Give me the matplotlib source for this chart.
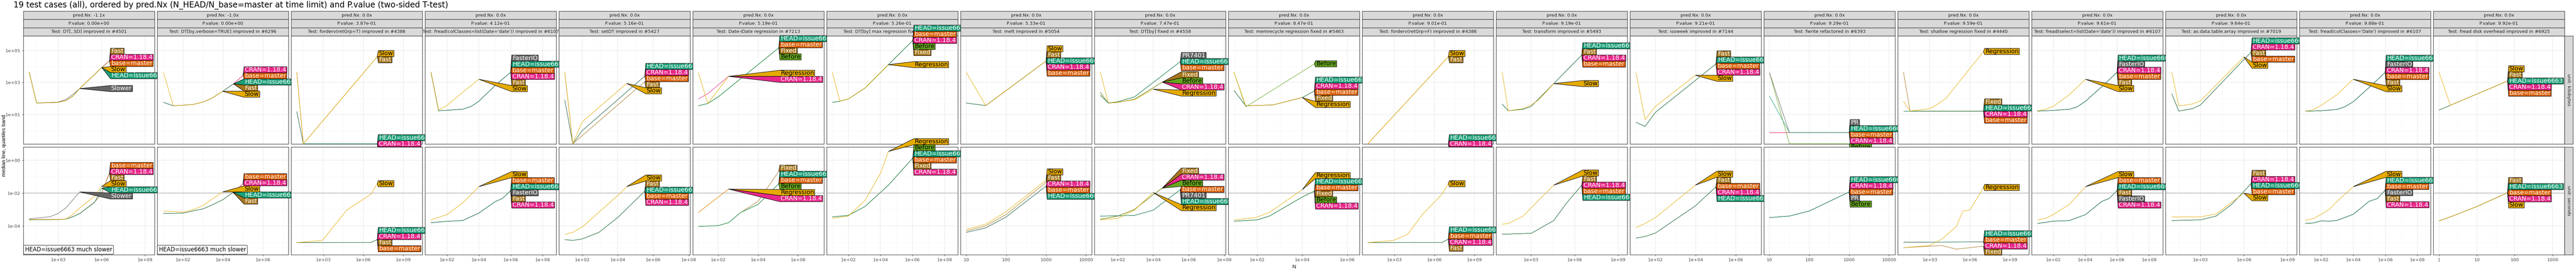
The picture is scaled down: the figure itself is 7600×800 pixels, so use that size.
import matplotlib
matplotlib.use("Agg")
import matplotlib.pyplot as plt
from matplotlib.patches import Polygon
from matplotlib.ticker import NullFormatter
import numpy as np

FONT = ["Liberation Sans Narrow", "DejaVu Sans"]
plt.rcParams["font.family"] = FONT

W, H = 7600, 800

H6 = "HEAD=issue6663"
CR = "CRAN=1.18.4"
BM = "base=master"

COLORS = {
    H6: "#1B9E77", BM: "#D95F02", CR: "#E7298A",
    "Fast": "#A6761D", "Fixed": "#A6761D",
    "Slow": "#E6AB02", "Regression": "#E6AB02",
    "Before": "#66A61E",
    "Slower": "#666666", "FasterIO": "#666666", "PR7401": "#666666", "PR": "#666666",
}
LINE_Z = {BM: 3.0, CR: 3.1, "Fast": 3.2, "Fixed": 3.2, "Before": 3.3, "Slower": 3.4,
          "FasterIO": 3.4, "PR7401": 3.4, "PR": 3.4, H6: 3.6, "Slow": 3.8, "Regression": 3.8}
DARK_TEXT = {"Slow", "Regression", "Before"}

PRED_NX = ["-1.1x", "-1.0x"] + ["0.0x"] * 17
PVALUES = ["0.00e+00", "0.00e+00", "3.87e-01", "4.12e-01", "5.16e-01", "5.19e-01",
           "5.26e-01", "5.33e-01", "7.47e-01", "8.47e-01", "9.01e-01", "9.19e-01",
           "9.21e-01", "9.29e-01", "9.59e-01", "9.61e-01", "9.64e-01", "9.88e-01",
           "9.92e-01"]
TESTS = [
    "DT[,.SD] improved in #4501",
    "DT[by,verbose=TRUE] improved in #6296",
    "forderv(retGrp=T) improved in #4386",
    "fread(colClasses=list(Date='date')) improved in #6107",
    "setDT improved in #5427",
    "Date-IDate regression in #7213",
    "DT[by] max regression fixed in #7480",
    "melt improved in #5054",
    "DT[by] fixed in #4558",
    "memrecycle regression fixed in #5463",
    "forderv(retGrp=F) improved in #4386",
    "transform improved in #5493",
    "isoweek improved in #7144",
    "fwrite refactored in #6393",
    "shallow regression fixed in #4440",
    "fread(select=list(Date='date')) improved in #6107",
    "as.data.table.array improved in #7019",
    "fread(colClasses='Date') improved in #6107",
    "fread disk overhead improved in #6925",
]

# x limits and x ticks, as log10(N)
XLIMS = [(0.59, 9.65), (0.71, 7.27), (0.57, 10.44), (0.63, 8.85), (0.69, 8.08),
         (0.73, 7.3), (0.66, 8.82), (0.86, 4.14), (0.69, 8.08), (0.72, 6.54),
         (0.57, 10.44), (0.58, 9.64), (0.73, 7.27), (0.86, 4.15), (0.6, 10.43),
         (0.65, 8.86), (0.6, 9.63), (0.64, 8.82), (-0.15, 3.31)]
XTICKS = [[3, 6, 9], [2, 4, 6], [3, 6, 9], [2, 4, 6, 8], [2, 4, 6, 8], [2, 4, 6],
          [2, 4, 6, 8], [1, 2, 3, 4], [2, 4, 6, 8], [2, 4, 6], [3, 6, 9], [3, 6, 9],
          [2, 4, 6], [1, 2, 3, 4], [3, 6, 9], [2, 4, 6, 8], [3, 6, 9], [2, 4, 6, 8],
          [0, 1, 2, 3]]
PLAIN_TICKS = {7, 13, 18}

# series: (names, log10 N, log10 value)  -- top row: kilobytes, bottom row: seconds
KB = [
    [("Fast,CRAN=1.18.4,base=master", [0.99, 1.5, 3.0, 3.54, 4.0, 4.48, 6.0, 6.54], [3.65, 1.72, 1.76, 1.88, 2.14, 2.62, 3.93, 4.35]),
     ("Slow,HEAD=issue6663", [0.99, 1.5, 3.0, 3.54, 4.0, 4.48, 6.0], [3.65, 1.72, 1.76, 1.88, 2.14, 2.62, 3.93]),
     ("Slower", [1.5, 3.0, 3.54, 4.0, 4.48], [1.72, 1.78, 1.95, 2.25, 2.62])],
    [("Slow", [1.02, 1.51, 2.47, 3.0, 3.45, 3.98], [3.62, 1.55, 1.62, 1.78, 2.03, 2.45]),
     ("HEAD=issue6663,Fast", [1.02, 1.51, 2.47, 3.0, 3.45, 3.98, 4.52], [1.76, 1.55, 1.62, 1.78, 2.03, 2.45, 2.91]),
     ("CRAN=1.18.4,base=master", [1.02, 1.51, 2.47, 3.0, 3.45, 3.98, 4.52, 5.0], [1.76, 1.55, 1.62, 1.78, 2.03, 2.45, 2.91, 3.44])],
    [("Slow,Fast", [0.99, 1.49, 7.05], [3.64, -0.82, 4.61]),
     ("HEAD=issue6663,CRAN=1.18.4,base=master", [0.99, 1.49, 7.05], [1.19, -0.82, -0.82])],
    [("Slow", [1.0, 1.48, 2.0, 2.98, 4.0], [3.64, 1.28, 1.56, 2.38, 3.2]),
     ("FasterIO,HEAD=issue6663,base=master,CRAN=1.18.4,Fast", [1.0, 1.48, 2.98, 3.52, 4.0, 5.04, 6.0], [3.64, 1.24, 1.33, 1.51, 1.83, 2.83, 3.64])],
    [("Slow", [1.02, 1.47, 2.0, 4.51], [3.64, -0.82, 0.55, 2.94]),
     ("HEAD=issue6663,CRAN=1.18.4,base=master", [1.02, 1.47, 2.0, 5.53], [1.91, -0.82, 0.0, 3.4]),
     ("Fast", [1.02, 1.47, 5.53], [3.64, -0.82, 3.06])],
    [("HEAD=issue6663,base=master,Fixed,Before", [1.01, 1.48, 2.0, 5.04], [1.55, 1.69, 2.1, 5.16]),
     ("Regression", [1.01, 1.48, 2.52], [3.61, 1.69, 3.38]),
     ("CRAN=1.18.4", [1.01, 1.48, 2.52], [1.97, 2.3, 3.38])],
    [("Regression", [1.01, 1.48, 2.0, 3.04, 4.5], [3.64, 1.83, 1.97, 2.65, 4.11]),
     ("HEAD=issue6663,base=master,CRAN=1.18.4,Before,Fixed", [1.01, 1.48, 2.0, 3.04, 4.5, 6.02], [1.76, 1.83, 1.97, 2.65, 4.11, 5.62])],
    [("Slow", [1.0, 1.49, 3.0], [3.64, 1.56, 4.34]),
     ("Fast,HEAD=issue6663,CRAN=1.18.4,base=master", [1.0, 1.49, 3.0], [1.72, 1.56, 4.34])],
    [("Regression", [1.02, 1.47, 2.0, 2.94, 4.0], [3.64, 1.74, 1.78, 1.92, 2.58]),
     ("Fixed,Before,CRAN=1.18.4", [1.02, 1.47, 2.0, 2.94, 4.51], [2.38, 1.72, 1.76, 1.95, 3.02]),
     ("PR7401,HEAD=issue6663,base=master", [1.02, 1.47, 2.0, 2.94, 5.53], [2.2, 1.72, 1.8, 2.1, 4.3])],
    [("Regression", [0.97, 1.49, 2.69, 4.0], [3.64, 1.55, 1.6, 2.06]),
     ("Before", [0.97, 1.49, 4.54], [3.64, 1.48, 4.16]),
     ("HEAD=issue6663,CRAN=1.18.4,base=master,Fixed", [0.97, 1.49, 2.69, 4.0, 4.54], [2.5, 1.55, 1.6, 2.06, 2.47])],
    [("Slow,Fast", [0.99, 7.05], [-0.82, 4.61]),
     ("HEAD=issue6663,CRAN=1.18.4,base=master", [0.99, 7.05], [-0.82, -0.82])],
    [("Slow", [0.99, 1.42, 2.45, 3.0, 3.53, 4.56], [3.67, 1.24, 1.37, 1.6, 1.92, 2.93]),
     ("HEAD=issue6663,Fast,CRAN=1.18.4,base=master", [0.99, 1.42, 2.45, 3.0, 4.56, 6.5], [1.66, 1.24, 1.33, 1.51, 2.93, 4.71])],
    [("Slow", [1.03, 1.48, 2.0, 3.99], [3.61, 0.69, 1.51, 3.45]),
     ("Fast,HEAD=issue6663,base=master,CRAN=1.18.4", [1.03, 1.48, 2.0, 5.02], [0.52, 0.26, 1.14, 4.16])],
    [("PR", [1.0, 1.5, 3.0], [3.61, -0.12, -0.12]),
     ("Before", [1.0, 1.5, 3.0], [3.61, -0.82, -0.82]),
     ("HEAD=issue6663", [1.0, 1.5, 3.0], [2.15, -0.12, -0.12]),
     ("base=master,CRAN=1.18.4", [1.0, 1.5, 3.0], [-0.12, -0.12, -0.12])],
    [("Regression", [1.03, 1.52, 3.0, 3.53, 4.21, 7.03], [1.83, 1.22, 1.37, 1.62, 2.01, 4.93]),
     ("Fixed", [1.03, 1.52, 7.03], [3.64, 1.22, 1.22]),
     ("HEAD=issue6663,CRAN=1.18.4,base=master", [1.03, 1.52, 7.03], [1.22, 1.22, 1.22])],
    [("Slow", [1.02, 1.51, 2.0, 3.01, 4.02], [1.24, 1.33, 1.51, 2.24, 3.2]),
     ("HEAD=issue6663,FasterIO,CRAN=1.18.4,base=master,Fast", [1.02, 2.0, 3.01, 3.5, 4.02, 5.04, 6.0], [1.22, 1.26, 1.33, 1.48, 1.83, 2.74, 3.64])],
    [("Slow", [1.03, 1.51, 2.46, 3.0, 5.99], [3.64, 1.54, 1.66, 1.85, 4.59]),
     ("HEAD=issue6663,CRAN=1.18.4,Fast,base=master", [1.03, 1.51, 2.46, 3.0, 6.49], [2.3, 1.22, 1.37, 1.6, 4.89])],
    [("Slow", [1.0, 1.5, 2.0, 2.99, 4.0], [1.21, 1.3, 1.58, 2.25, 3.2]),
     ("HEAD=issue6663,FasterIO,CRAN=1.18.4,base=master,Fast", [1.0, 2.0, 2.99, 3.46, 4.0, 5.08, 5.99], [1.21, 1.24, 1.32, 1.48, 1.8, 2.77, 3.63])],
    [("Slow", [0.0, 0.3, 1.81], [3.65, 1.58, 3.09]),
     ("Fast,HEAD=issue6663,CRAN=1.18.4,base=master", [0.0, 0.3, 1.81], [1.28, 1.58, 3.09])],
]

SEC = [
    [("base=master,CRAN=1.18.4,Fast", [0.99, 3.0, 3.54, 4.0, 4.48, 5.5, 6.0, 6.54], [-3.61, -3.61, -3.57, -3.44, -3.24, -2.56, -2.0, -0.76]),
     ("HEAD=issue6663", [0.99, 3.0, 3.54, 4.0, 4.48, 5.5, 6.0], [-3.63, -3.62, -3.58, -3.45, -3.25, -2.58, -1.7]),
     ("Slow", [0.99, 3.0, 3.54, 4.0, 4.48, 5.5, 6.0], [-3.61, -3.61, -3.57, -3.3, -2.9, -2.2, -1.59]),
     ("Slower", [0.99, 2.42, 3.0, 3.54, 4.48], [-3.57, -3.44, -3.24, -2.89, -1.93])],
    [("Slow", [1.02, 2.0, 2.47, 3.0, 3.45, 3.98], [-3.09, -3.16, -3.02, -2.76, -2.37, -1.93]),
     ("HEAD=issue6663,Fast", [1.02, 2.0, 2.47, 3.0, 3.45, 3.98, 4.5], [-3.24, -3.22, -3.09, -2.96, -2.72, -2.41, -1.96]),
     ("base=master,CRAN=1.18.4", [1.02, 2.0, 2.47, 3.0, 3.45, 3.98, 4.5, 5.0], [-3.24, -3.22, -3.09, -2.96, -2.72, -2.41, -1.96, -1.44])],
    [("Slow", [0.99, 2.92, 4.75, 6.58, 7.05], [-5.01, -4.88, -3.04, -2.06, -1.43]),
     ("HEAD=issue6663,CRAN=1.18.4,Fast,base=master", [0.99, 4.0, 6.58, 7.05], [-5.01, -5.0, -5.0, -4.83])],
    [("Slow", [1.0, 2.0, 2.98, 4.0], [-3.63, -3.31, -2.6, -1.61]),
     ("base=master,HEAD=issue6663,FasterIO,Fast,CRAN=1.18.4", [1.0, 2.0, 2.98, 4.0, 5.04, 5.48, 6.0], [-3.8, -3.72, -3.67, -3.22, -2.51, -2.33, -1.84])],
    [("Slow", [1.02, 1.47, 2.0, 4.0, 4.51], [-4.52, -4.39, -4.07, -2.15, -1.61]),
     ("Fast,HEAD=issue6663,base=master,CRAN=1.18.4", [1.02, 1.47, 2.0, 2.94, 4.0, 5.53], [-4.83, -4.88, -4.79, -4.39, -3.49, -1.88])],
    [("Regression,CRAN=1.18.4", [1.01, 2.52], [-3.18, -1.76]),
     ("HEAD=issue6663,base=master,Before", [1.01, 2.0, 2.52, 3.13, 4.0, 5.04], [-4.03, -3.98, -3.8, -3.18, -2.69, -1.43]),
     ("Fixed", [1.01, 2.0, 2.52, 3.13, 4.0, 5.04], [-4.03, -3.98, -3.8, -3.18, -2.5, -0.67])],
    [("Regression", [1.01, 2.0, 3.04, 4.0, 4.5], [-3.54, -3.4, -2.46, -0.81, 0.53]),
     ("Before,HEAD=issue6663,base=master,Fixed,CRAN=1.18.4", [1.01, 2.0, 3.04, 4.5, 6.02], [-3.45, -3.36, -2.82, -1.52, 0.13])],
    [("Slow", [1.0, 1.49, 2.0, 3.0], [-4.21, -3.89, -3.13, -1.21]),
     ("Fast", [1.0, 1.49, 2.0, 3.0], [-4.3, -4.0, -3.3, -1.35]),
     ("CRAN=1.18.4,base=master,HEAD=issue6663", [1.0, 1.49, 2.0, 3.0], [-4.39, -4.12, -3.45, -1.57])],
    [("Regression", [1.02, 2.0, 2.94, 4.0], [-3.63, -3.54, -3.04, -1.97]),
     ("Fixed,CRAN=1.18.4,Before", [1.02, 2.0, 2.94, 4.0, 4.51], [-3.6, -3.4, -3.0, -2.1, -1.7]),
     ("base=master,PR7401,HEAD=issue6663", [1.02, 2.94, 4.0, 5.53], [-3.4, -3.36, -3.04, -1.79])],
    [("Regression", [0.97, 1.92, 2.54, 4.0], [-3.63, -3.49, -3.18, -1.79]),
     ("HEAD=issue6663,base=master,Fixed,Before,CRAN=1.18.4", [0.97, 2.0, 2.54, 4.0, 4.54], [-3.71, -3.63, -3.4, -2.24, -1.88])],
    [("Slow", [0.99, 2.92, 4.0, 5.1, 6.58, 7.05], [-5.01, -4.88, -4.5, -3.3, -2.06, -1.43]),
     ("HEAD=issue6663,base=master,CRAN=1.18.4,Fast", [0.99, 4.0, 6.58, 7.05], [-5.01, -5.0, -5.0, -4.8])],
    [("Slow", [0.99, 1.42, 2.45, 3.53, 4.56], [-3.89, -3.85, -3.4, -2.42, -1.52]),
     ("Fast,CRAN=1.18.4,base=master,HEAD=issue6663", [0.99, 3.0, 4.56, 5.45, 6.5], [-4.5, -4.45, -3.67, -2.6, -1.52])],
    [("Slow", [1.03, 1.48, 2.0, 3.99], [-4.1, -3.85, -3.49, -1.52]),
     ("Fast,base=master,CRAN=1.18.4,HEAD=issue6663", [1.03, 1.48, 2.0, 3.99, 5.02], [-4.74, -4.64, -4.43, -2.78, -1.61])],
    [("HEAD=issue6663,CRAN=1.18.4,base=master,PR,Before", [1.0, 1.5, 2.0, 3.0], [-3.49, -3.4, -3.09, -1.93])],
    [("Regression", [1.03, 3.0, 3.92, 4.99, 5.48, 6.0, 7.03], [-5.32, -5.19, -4.79, -4.03, -3.09, -3.04, -1.66]),
     ("Fixed", [1.03, 3.92, 4.99, 7.03], [-5.32, -5.19, -5.41, -5.23]),
     ("HEAD=issue6663,base=master,CRAN=1.18.4", [1.03, 7.03], [-4.99, -4.97])],
    [("Slow", [1.02, 1.51, 2.0, 3.01, 4.02], [-3.63, -3.54, -3.31, -2.69, -1.61]),
     ("base=master,HEAD=issue6663,Fast,FasterIO,CRAN=1.18.4", [1.02, 2.0, 3.01, 4.02, 5.04, 5.5, 6.0], [-3.85, -3.71, -3.67, -3.31, -2.51, -2.33, -1.84])],
    [("Slow", [1.03, 3.0, 4.08, 5.99], [-3.45, -3.45, -3.27, -2.01]),
     ("Fast,CRAN=1.18.4,HEAD=issue6663,base=master", [1.03, 3.0, 4.08, 5.15, 6.49], [-3.67, -3.63, -3.4, -2.69, -1.43])],
    [("Slow", [1.0, 1.5, 2.0, 2.51, 2.99, 4.0], [-3.66, -3.56, -3.29, -2.98, -2.5, -1.61]),
     ("HEAD=issue6663,base=master,FasterIO,Fast,CRAN=1.18.4", [1.0, 1.5, 2.0, 2.51, 2.99, 4.0, 4.47, 4.99, 5.49, 5.99], [-3.85, -3.82, -3.69, -3.71, -3.66, -3.29, -2.92, -2.5, -2.34, -1.82])],
    [("Fast,HEAD=issue6663,base=master,CRAN=1.18.4,Slow", [0.0, 0.3, 1.0, 1.81], [-3.69, -3.45, -2.82, -1.98])],
]

ROW_YLIM = [(-0.83, 5.9), (-5.75, 0.8)]
ROW_YTICKS = [[1, 3, 5], [-4, -2, 0]]
ROW_UNITS = ["unit: kilobytes", "unit: seconds"]
MUCH_SLOWER = {0, 1}

PANEL_L0, PANEL_STEP, PANEL_W = 69, 395, 387
ROW_TB = [(106, 425), (434, 752)]
LAB_H = 18


def fig_rect(l, t, w, h):
    return [l / W, 1 - (t + h) / H, w / W, h / H]


def exp_label(k):
    return f"1e{k:+03d}"


def place_labels(ax, ends, renderer):
    tr = ax.transData
    inv = tr.inverted()
    pts = []
    for name, x, y in ends:
        px, py = tr.transform((10 ** x, 10 ** y))
        pts.append((name, px, py))
    lx = max(p[1] for p in pts) + 3
    pts.sort(key=lambda p: -p[2])
    # isotonic (pool adjacent violators) to keep labels from overlapping
    z = [p[2] + i * LAB_H for i, p in enumerate(pts)]
    blocks = []
    for v in z:
        blocks.append([v, 1])
        while len(blocks) > 1 and blocks[-1][0] / blocks[-1][1] > blocks[-2][0] / blocks[-2][1]:
            s, c = blocks.pop()
            blocks[-1][0] += s
            blocks[-1][1] += c
    centers = []
    for s, c in blocks:
        centers += [s / c] * c
    centers = [v - i * LAB_H for i, v in enumerate(centers)]
    for (name, ex, ey), cy in zip(pts, centers):
        col = COLORS[name]
        tx, ty = inv.transform((lx + 2, cy))
        t = ax.text(tx, ty, name, fontsize=13, va="center", ha="left", family=FONT,
                    color="black" if name in DARK_TEXT else "white", zorder=12, clip_on=False)
        bw = t.get_window_extent(renderer).width + 4
        top, bot = cy + LAB_H / 2, cy - LAB_H / 2
        verts = [(ex, ey), (lx, top), (lx + bw, top), (lx + bw, bot), (lx, bot)]
        verts = [inv.transform(v) for v in verts]
        ax.add_patch(Polygon(verts, closed=True, facecolor=col, edgecolor="black",
                             lw=0.9, zorder=11, clip_on=False))


fig = plt.figure(figsize=(W / 100, H / 100), dpi=100)
renderer = fig.canvas.get_renderer()

fig.text(40 / W, 1 - 15 / H,
         "19 test cases (all), ordered by pred.Nx (N_HEAD/N_base=master at time limit) and P.value (two-sided T-test)",
         fontsize=17, va="center", ha="left", family=FONT)
fig.text(12 / W, 1 - 430 / H, "median line, quartiles band", rotation=90, fontsize=11,
         va="center", ha="center", family=["Liberation Sans", "DejaVu Sans"])
fig.text(3818 / W, 1 - 788 / H, "N", fontsize=11, va="center", ha="center",
         family=["Liberation Sans", "DejaVu Sans"])

for i in range(19):
    left = PANEL_L0 + i * PANEL_STEP
    strips = [f"pred.Nx: {PRED_NX[i]}", f"P.value: {PVALUES[i]}", f"Test: {TESTS[i]}"]
    for k, s in enumerate(strips):
        top = 33 + k * 24.3
        sax = fig.add_axes(fig_rect(left, top, PANEL_W, 24.3))
        sax.set_xticks([]); sax.set_yticks([])
        sax.set_facecolor("#D9D9D9")
        for sp in sax.spines.values():
            sp.set_color("#333333"); sp.set_linewidth(1.0)
        sax.text(0.5, 0.5, s, ha="center", va="center", fontsize=9.5, color="#1A1A1A",
                 transform=sax.transAxes, family=FONT)

    lo, hi = XLIMS[i]
    majors = XTICKS[i]
    step = majors[1] - majors[0]
    minors = [m - step / 2 for m in majors] + [majors[-1] + step / 2]
    for r, data in enumerate([KB[i], SEC[i]]):
        t, b = ROW_TB[r]
        ax = fig.add_axes(fig_rect(left, t, PANEL_W, b - t))
        ax.set_xscale("log"); ax.set_yscale("log")
        ax.set_xticks([10.0 ** m for m in majors])
        ax.set_xticks([10.0 ** m for m in minors], minor=True)
        yt = ROW_YTICKS[r]
        ax.set_yticks([10.0 ** m for m in yt])
        ax.set_yticks([10.0 ** (m - 1) for m in yt] + [10.0 ** (yt[-1] + 1)], minor=True)
        ax.xaxis.set_minor_formatter(NullFormatter())
        ax.yaxis.set_minor_formatter(NullFormatter())
        ax.set_xlim(10 ** lo, 10 ** hi)
        ylo, yhi = ROW_YLIM[r]
        ax.set_ylim(10 ** ylo, 10 ** yhi)
        ax.grid(which="major", color="#EBEBEB", lw=1.1)
        ax.grid(which="minor", color="#F2F2F2", lw=0.6)
        ax.set_axisbelow(True)
        for sp in ax.spines.values():
            sp.set_color("#333333"); sp.set_linewidth(1.0)
        ax.tick_params(which="minor", length=0)
        ax.tick_params(which="major", length=3, color="#333333", labelsize=9.5,
                       labelcolor="#4D4D4D")
        if i == 0:
            ax.set_yticklabels([exp_label(m) for m in yt], family=FONT)
        else:
            ax.tick_params(axis="y", length=0, labelleft=False)
        if r == 1:
            if i in PLAIN_TICKS:
                ax.set_xticklabels([str(10 ** m) for m in majors], family=FONT)
            else:
                ax.set_xticklabels([exp_label(m) for m in majors], family=FONT)
            ax.axhline(10 ** -2, color="#BEBEBE", lw=1.6, zorder=1)
        else:
            ax.tick_params(axis="x", length=0, labelbottom=False)

        ends = []
        for names, xs, ys in data:
            xv = 10.0 ** np.array(xs)
            yv = 10.0 ** np.array(ys)
            for name in names.split(","):
                ax.plot(xv, yv, color=COLORS[name], lw=0.9, zorder=LINE_Z[name],
                        solid_capstyle="butt")
                ends.append((name, xs[-1], ys[-1]))
        place_labels(ax, ends, renderer)

        if r == 1 and i in MUCH_SLOWER:
            ax.text(0.012, 0.018, "HEAD=issue6663 much slower", transform=ax.transAxes,
                    fontsize=12, ha="left", va="bottom", family=FONT, zorder=13,
                    bbox=dict(boxstyle="round,pad=0.25,rounding_size=0.2", fc="white", ec="black", lw=0.8))

    # facet strips on the right
    if i == 18:
        for r in range(2):
            t, b = ROW_TB[r]
            rax = fig.add_axes(fig_rect(left + PANEL_W, t, 25, b - t))
            rax.set_xticks([]); rax.set_yticks([])
            rax.set_facecolor("#D9D9D9")
            for sp in rax.spines.values():
                sp.set_color("#333333"); sp.set_linewidth(1.0)
            rax.text(0.5, 0.5, ROW_UNITS[r], rotation=-90, ha="center", va="center",
                     fontsize=9.5, color="#1A1A1A", transform=rax.transAxes, family=FONT)

fig.savefig("out.png", dpi=100, facecolor="white")
